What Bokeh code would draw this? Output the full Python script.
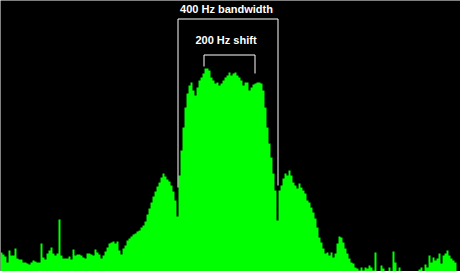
from bokeh.plotting import figure
from bokeh.models import Range1d
from bokeh.embed import file_html
from bokeh.resources import INLINE
from bokeh.core.properties import value

# spectrum levels, one per 2-px frequency bin (arbitrary amplitude units)
levels = [
    19, 17, 15, 9, 21, 16, 16, 23, 13, 12, 12, 9, 9, 8, 7, 9, 11, 10, 9, 9,
    28, 14, 12, 18, 21, 24, 18, 16, 18, 52, 16, 13, 13, 13, 15, 12, 22, 16, 17, 17,
    16, 14, 13, 18, 18, 17,
    16, 22, 19, 17, 13, 16, 20, 24, 28, 29, 30, 28, 30, 21, 17, 23, 26, 31, 33, 35,
    37, 38, 40, 41, 44, 46, 50, 57, 63, 69, 75, 80, 85, 89, 94, 98, 95, 92, 90, 86,
    80, 71, 55, 96,
    121, 144, 164, 178, 186, 189, 181, 176, 184, 191, 194, 198, 203, 203, 201, 194,
    191, 188, 189, 186, 188, 191, 194, 196, 199, 196, 198, 199, 196, 194, 191, 186,
    189, 189, 181, 184, 187, 188, 189, 189, 188, 181, 164, 144, 128, 114, 98, 81,
    51, 81, 86, 93, 98, 96, 101, 96, 89, 86, 83, 88, 84, 81, 78, 71, 69, 64, 59, 53,
    44, 34, 29, 23, 18, 19, 16, 19, 14, 18, 28, 35, 34, 29, 23, 18, 13, 9, 8, 4,
    3, 1, 4, 1, 4, 3, 6, 4, 1, 19, 0, 0, 6, 3, 0, 0, 4, 0, 20, 9,
    0, 4, 0, 0, 0, 0, 0, 0, 0, 0, 0, 2, 4, 0, 7, 4, 16, 9, 14, 11,
    13, 18, 8, 16, 18, 21, 16, 13, 11, 9,
]
bin_width = 2
bin_start = [bin_width * i for i in range(len(levels))]

bandwidth_label = "400 Hz bandwidth"
shift_label = "200 Hz shift"

W, H = 460, 271
p = figure(width=W, height=H, output_backend="svg", toolbar_location=None,
           x_range=Range1d(0, W), y_range=Range1d(0, H),
           background_fill_color="black", border_fill_color="black",
           min_border=0, outline_line_color=None)
p.axis.visible = False
p.grid.visible = False

# step-shaped filled area built from the bins
sx, sy = [], []
for b, lv in zip(bin_start, levels):
    sx += [b, b + bin_width]
    sy += [lv, lv]
p.varea(x=sx, y1=[0] * len(sx), y2=sy, fill_color="#00ff00")

# bandwidth box
box_l, box_r, box_t = 177.5, 277.5, H - 18.5
p.line([box_l, box_l, box_r, box_r], [H - 187, box_t, box_t, H - 185],
       line_color="white", line_width=1)
# shift bracket
br_l, br_r, br_t = 203.5, 254.5, H - 54.5
p.line([br_l, br_l, br_r, br_r], [H - 66, br_t, br_t, H - 73],
       line_color="white", line_width=1)

p.text(x=[226], y=[H - 8], text=[bandwidth_label], text_color="white",
       text_font=value("Liberation Sans"), text_font_style="bold",
       text_font_size="11px", text_align="center", text_baseline="middle")
p.text(x=[225.5], y=[H - 39.5], text=[shift_label], text_color="white",
       text_font=value("Liberation Sans"), text_font_style="bold",
       text_font_size="11px", text_align="center", text_baseline="middle")

open("out.html", "w").write(file_html(p, INLINE))
